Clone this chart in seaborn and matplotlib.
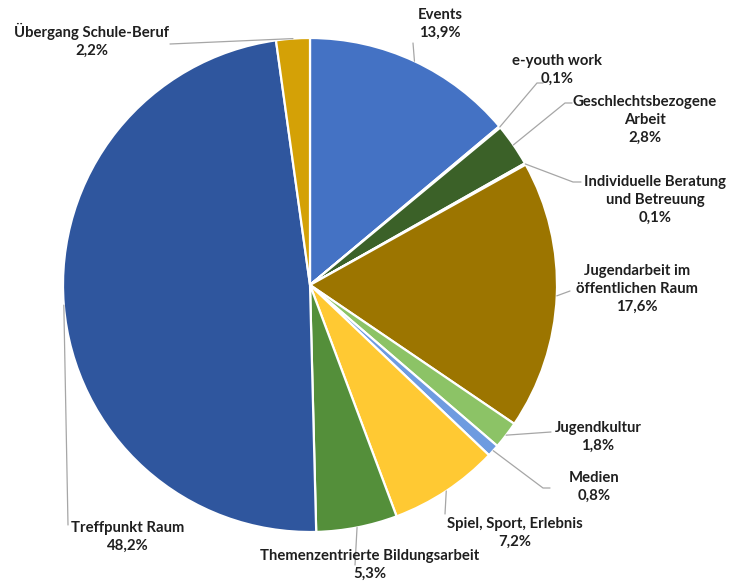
import numpy as np
import matplotlib
matplotlib.use("Agg")
import matplotlib.pyplot as plt
import seaborn as sns

categories = ["Events", "e-youth work", "Geschlechtsbezogene\nArbeit",
              "Individuelle Beratung\nund Betreuung", "Jugendarbeit im\nöffentlichen Raum",
              "Jugendkultur", "Medien", "Spiel, Sport, Erlebnis",
              "Themenzentrierte Bildungsarbeit", "Treffpunkt Raum", "Übergang Schule-Beruf"]
values = [13.9, 0.1, 2.8, 0.1, 17.6, 1.8, 0.8, 7.2, 5.3, 48.2, 2.2]
value_labels = ["13,9%", "0,1%", "2,8%", "0,1%", "17,6%", "1,8%", "0,8%", "7,2%", "5,3%", "48,2%", "2,2%"]
colors = ["#4472C4", "#A5A5A5", "#3B6128", "#70AD47", "#9C7500", "#8CC366",
          "#6E9BE0", "#FFC933", "#548F3A", "#2F569E", "#D4A106"]

sns.set_theme(style="white")
plt.rcParams['font.family'] = ['Lato', 'DejaVu Sans']

W, H = 746, 582
fig = plt.figure(figsize=(W / 100, H / 100), dpi=100)
ax = fig.add_axes([0, 0, 1, 1])

cx, cy, R = 310, H - 285, 247
ax.pie(values, colors=colors, startangle=90, counterclock=False,
       center=(cx, cy), radius=R, frame=True,
       wedgeprops=dict(edgecolor="white", linewidth=1.6))
ax.set_xlim(0, W)
ax.set_ylim(0, H)
ax.set_aspect("equal")
ax.axis("off")

# label layout (pixel coords, y from top): text centre and leader path
label_pos = [(440, 24), (557, 70), (645, 120), (655, 200), (637, 289),
             (598, 437), (594, 487), (515, 533), (370, 565), (128, 537), (92, 40)]
leader_paths = [[(413, 43)], [(537, 83), (543, 83)], [(565, 103), (572, 103)],
                [(573, 182), (581, 182)], [(570, 291)], [(551, 432)],
                [(543, 488), (550, 488)], [(445, 514)], [(355, 565)],
                [(68, 525)], [(170, 44)]]

cum = np.cumsum([0] + values[:-1])
total = sum(values)
for i, (lab, vl) in enumerate(zip(categories, value_labels)):
    mid = (cum[i] + values[i] / 2) / total * 360.0
    ang = np.deg2rad(90 - mid)
    sx, sy = cx + R * np.cos(ang), cy + R * np.sin(ang)
    xs = [sx] + [p[0] for p in leader_paths[i]]
    ys = [sy] + [H - p[1] for p in leader_paths[i]]
    ax.plot(xs, ys, color="#A6A6A6", lw=0.9, zorder=1)
    tx, ty = label_pos[i]
    ax.text(tx, H - ty, f"{lab}\n{vl}", ha="center", va="center",
            fontsize=10.7, fontweight="bold", color="#1F1F1F", linespacing=1.35,
            zorder=3)

fig.savefig("out.png", dpi=100, facecolor="white")
